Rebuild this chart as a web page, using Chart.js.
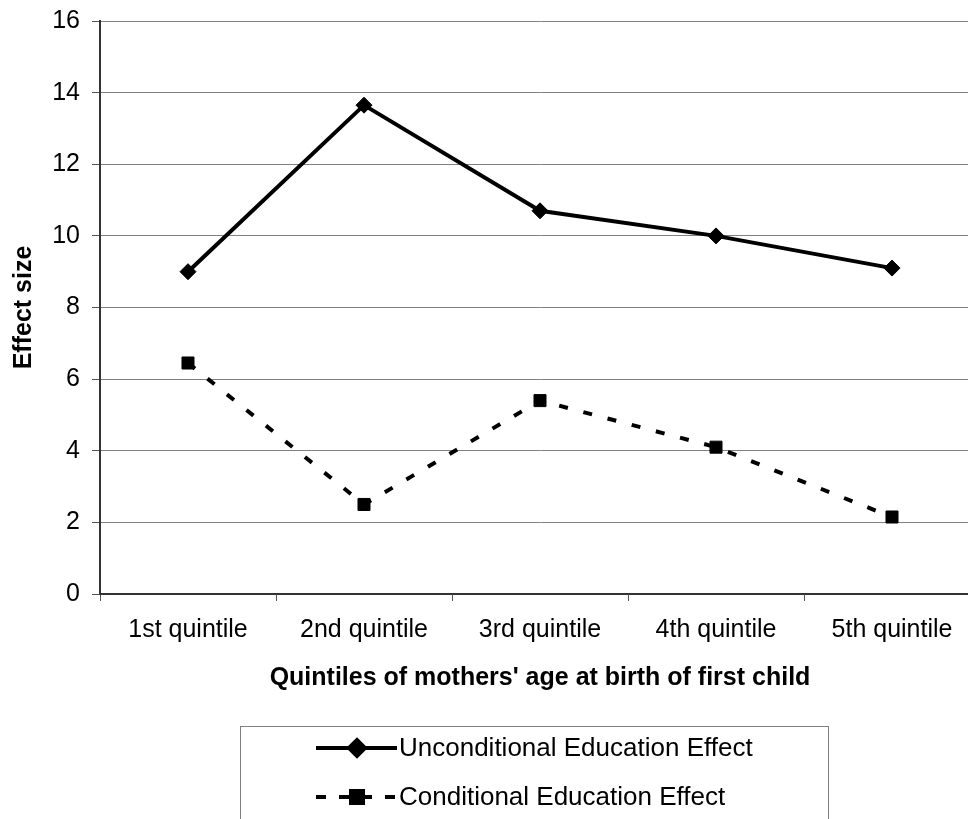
<!DOCTYPE html>
<html>
<head>
<meta charset="utf-8">
<script src="https://cdn.jsdelivr.net/npm/chart.js@4.4.1/dist/chart.umd.min.js"></script>
<style>
  html, body { margin: 0; padding: 0; background: #fff; overflow: hidden; }
  #wrap { width: 990px; height: 819px; }
</style>
</head>
<body>
<div id="wrap"><canvas id="chart" width="990" height="819"></canvas></div>
<script>
const quintiles = ['1st quintile', '2nd quintile', '3rd quintile', '4th quintile', '5th quintile'];
const unconditional = [9.0, 13.65, 10.7, 10.0, 9.1];
const conditional = [6.45, 2.5, 5.4, 4.1, 2.15];
const yTicks = [0, 2, 4, 6, 8, 10, 12, 14, 16];

const FONT = '"Liberation Sans", Arial, sans-serif';

// legend drawn as a framed box under the axis title, like the spreadsheet original
const boxLegend = {
  id: 'boxLegend',
  afterDraw(chart) {
    const ctx = chart.ctx;
    const left = 240, top = 726, right = 828;
    ctx.save();
    ctx.strokeStyle = '#808080';
    ctx.lineWidth = 1;
    ctx.strokeRect(left + 0.5, top + 0.5, right - left, 200);
    const rows = [748, 797];
    chart.data.datasets.forEach((ds, i) => {
      const y = rows[i];
      ctx.beginPath();
      ctx.lineWidth = ds.borderWidth;
      ctx.strokeStyle = ds.borderColor;
      ctx.setLineDash(ds.borderDash ? [10, 13] : []);
      ctx.moveTo(316, y);
      ctx.lineTo(397, y);
      ctx.stroke();
      ctx.setLineDash([]);
      Chart.helpers.drawPoint(ctx, {
        pointStyle: ds.pointStyle, radius: ds.pointRadius, rotation: 0, borderWidth: 1
      }, 357, y);
      ctx.fillStyle = '#000';
      ctx.font = '26px ' + FONT;
      ctx.textBaseline = 'middle';
      ctx.textAlign = 'left';
      ctx.fillText(ds.label, 399, y + 1);
    });
    ctx.restore();
  }
};

new Chart(document.getElementById('chart'), {
  type: 'line',
  data: {
    labels: quintiles,
    datasets: [
      {
        label: 'Unconditional Education Effect',
        data: unconditional,
        borderColor: '#000',
        backgroundColor: '#000',
        borderWidth: 4,
        pointStyle: 'rectRot',
        pointRadius: 8,
        pointBorderWidth: 1,
        pointBackgroundColor: '#000',
        tension: 0,
      },
      {
        label: 'Conditional Education Effect',
        data: conditional,
        borderColor: '#000',
        backgroundColor: '#000',
        borderWidth: 4,
        borderDash: [9, 16],
        pointStyle: 'rect',
        pointRadius: 8.5,
        pointBorderWidth: 1,
        pointBackgroundColor: '#000',
        tension: 0,
      },
    ],
  },
  options: {
    responsive: false,
    animation: false,
    layout: { autoPadding: false, padding: { left: 0, right: 10, top: 21, bottom: 115 } },
    scales: {
      x: {
        offset: true,
        border: { color: '#333', width: 2 },
        grid: { offset: true, drawOnChartArea: false, drawTicks: true, tickLength: 7, tickColor: '#555', lineWidth: 1 },
        ticks: { color: '#000', padding: 14, maxRotation: 0, font: { family: FONT, size: 25 } },
        title: {
          display: true,
          text: "Quintiles of mothers' age at birth of first child",
          color: '#000',
          font: { family: FONT, size: 25, weight: 'bold' },
          padding: { top: 0, bottom: 11 },
        },
        afterFit(scale) { scale.height = 110; },
      },
      y: {
        min: 0,
        max: 16,
        afterBuildTicks(scale) { scale.ticks = yTicks.map(v => ({ value: v })); },
        border: { color: '#333', width: 2 },
        grid: { color: '#808080', lineWidth: 1, tickLength: 8, tickColor: '#555' },
        ticks: { color: '#000', padding: 12, font: { family: FONT, size: 25 } },
        title: {
          display: true,
          text: 'Effect size',
          color: '#000',
          font: { family: FONT, size: 25, weight: 'bold' },
          padding: { top: 9, bottom: 0 },
        },
        // fixed axis box so the plot area sits at x 100..980, y 21..594
        afterFit(scale) { scale.width = 100; scale.paddingTop = 0; scale.paddingBottom = 0; },
      },
    },
    plugins: {
      legend: { display: false },
      tooltip: { enabled: false },
    },
  },
  plugins: [boxLegend],
});
</script>
</body>
</html>
